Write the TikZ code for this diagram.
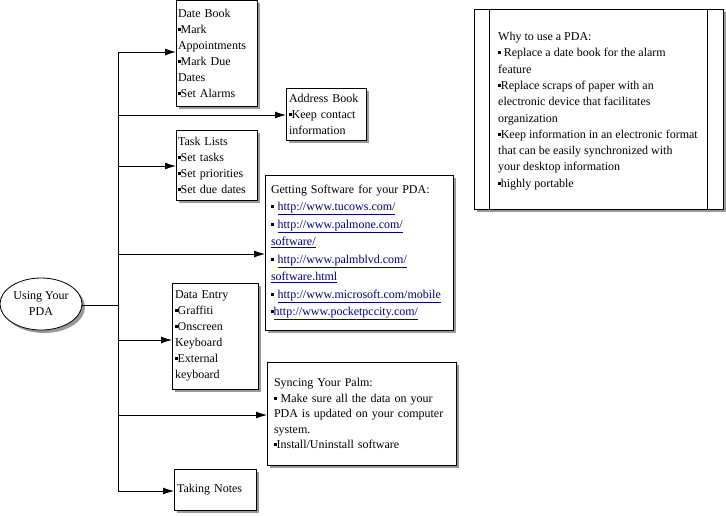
\documentclass[tikz,border=0pt]{standalone}
\usepackage{fontspec}
\setmainfont{Liberation Serif}
\usepackage{tikz}
\usetikzlibrary{shapes.geometric,shadows,arrows.meta}

\definecolor{linkblue}{RGB}{0,0,128}
\newcommand{\sqb}{\rule[2.5pt]{2.6pt}{3pt}}
\newcommand{\lnk}[1]{{\color{linkblue}\underline{#1}}}

\tikzset{
  infobox/.style={draw, line width=0.8pt, fill=white, anchor=north west,
    align=left, outer sep=0pt, inner ysep=0pt,
    font=\fontsize{12}{16}\selectfont,
    drop shadow={shadow xshift=3pt, shadow yshift=-3pt, fill=gray, opacity=0.8}},
  branch/.style={line width=0.8pt, -{Latex[length=11pt,width=7pt]}},
  trunk/.style={line width=0.8pt}
}

\begin{document}
\begin{tikzpicture}[x=1pt, y=-1pt]
      \useasboundingbox (0,0) rectangle (726,515);

      % centre topic
      \node[ellipse, draw, line width=0.8pt, fill=white, align=center,
            minimum width=82pt, minimum height=52pt, inner sep=0pt,
            font=\fontsize{12}{16}\selectfont,
            drop shadow={shadow xshift=3pt, shadow yshift=-3pt, fill=gray, opacity=0.8}]
            (pda) at (41,304) {Using Your\\PDA};

      % topic boxes
      \node[infobox, inner xsep=2pt, text width=77pt, minimum height=106pt]
            (datebook) at (176,0)
            {Date Book\\\sqb Mark\\Appointments\\\sqb Mark Due\\Dates\\\sqb Set Alarms};
      \node[infobox, inner xsep=3pt, text width=74pt, minimum height=52pt]
            (address) at (286,88)
            {Address Book\\\sqb Keep contact\\information};
      \node[infobox, inner xsep=2pt, text width=77pt, minimum height=70pt]
            (tasks) at (176,130)
            {Task Lists\\\sqb Set tasks\\\sqb Set priorities\\\sqb Set due dates};
      \node[infobox, inner xsep=6pt, text width=176pt, minimum height=155pt,
            font=\fontsize{12}{17.5}\selectfont]
            (software) at (265,175)
            {Getting Software for your PDA:\\
             \sqb{} \lnk{http://www.tucows.com/}\\
             \sqb{} \lnk{http://www.palmone.com/}\\
             \lnk{software/}\\
             \sqb{} \lnk{http://www.palmblvd.com/}\\
             \lnk{software.html}\\
             \sqb{} \lnk{http://www.microsoft.com/mobile}\\
             \sqb\lnk{http://www.pocketpccity.com/}};
      \node[infobox, inner xsep=3pt, text width=80pt, minimum height=106pt]
            (dataentry) at (172,283)
            {Data Entry\\\sqb Graffiti\\\sqb Onscreen\\Keyboard\\\sqb External\\keyboard};
      \node[infobox, inner xsep=7pt, text width=175pt, minimum height=103pt,
            font=\fontsize{12}{15.5}\selectfont]
            (sync) at (267,362)
            {Syncing Your Palm:\\\sqb{} Make sure all the data on your\\PDA is updated on your computer\\system.\\\sqb Install/Uninstall software};
      \node[infobox, inner xsep=3pt, text width=76pt, minimum height=41pt]
            (notes) at (174,469)
            {Taking Notes};

      % side note
      \node[infobox, inner sep=0pt, minimum width=249pt, minimum height=200pt]
            (why) at (474,9) {};
      \node[anchor=north west, align=left, inner sep=0pt,
            font=\fontsize{12}{16.3}\selectfont]
            (whytext) at (498,32)
            {Why to use a PDA:\\
             \sqb{} Replace a date book for the alarm\\feature\\
             \sqb Replace scraps of paper with an\\electronic device that facilitates\\organization\\
             \sqb Keep information in an electronic format\\that can be easily synchronized with\\your desktop information\\
             \sqb highly portable};
      \draw[line width=0.8pt] ([xshift=15pt]why.north west) -- ([xshift=15pt]why.south west);
      \draw[line width=0.8pt] ([xshift=-16pt]why.north east) -- ([xshift=-16pt]why.south east);

      % junctions on the trunk
      \coordinate (j1) at (118,52);
      \coordinate (j2) at (118,115);
      \coordinate (j3) at (118,166);
      \coordinate (j4) at (118,254);
      \coordinate (jc) at (118,305);
      \coordinate (j5) at (118,340);
      \coordinate (j6) at (118,415);
      \coordinate (j7) at (118,491);

      \draw[trunk] (pda.east |- jc) -- (jc);
      \draw[trunk] (j1) -- (j7);

      \draw[branch] (j1) -- (j1 -| datebook.west);
      \draw[branch] (j2) -- (j2 -| address.west);
      \draw[branch] (j3) -- (j3 -| tasks.west);
      \draw[branch] (j4) -- (j4 -| software.west);
      \draw[branch] (j5) -- (j5 -| dataentry.west);
      \draw[branch] (j6) -- (j6 -| sync.west);
      \draw[branch] (j7) -- (j7 -| notes.west);
    \end{tikzpicture}
\end{document}
